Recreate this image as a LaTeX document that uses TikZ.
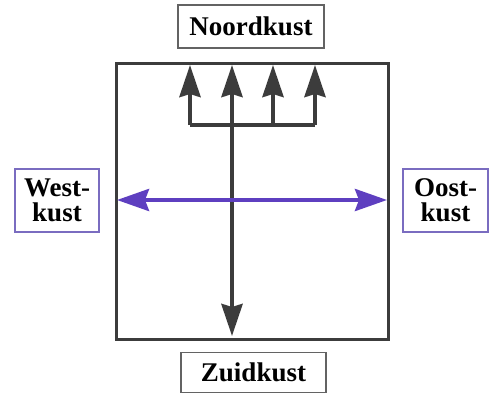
\documentclass[tikz,border=0pt]{standalone}
\usepackage{fontspec}
\setmainfont{Liberation Serif}
\usetikzlibrary{arrows.meta}
\definecolor{dgray}{HTML}{3C3C3C}
\definecolor{arrowpurple}{HTML}{5E3FC0}
\definecolor{boxpurple}{HTML}{7A6CC0}
\begin{document}
\begin{tikzpicture}[x=1pt,y=-1pt,
  label box/.style={draw, line width=1.2pt, inner sep=0pt, font=\fontsize{27}{25}\selectfont\bfseries, align=center},
  gray box/.style={label box, draw=dgray!80},
  purple box/.style={label box, draw=boxpurple},
  tip/.style={-{Stealth[length=32pt,width=21pt,inset=3pt]}},
  flow/.style={line width=4.3pt, dgray, tip},
  eastwest/.style={line width=4pt, arrowpurple, {Stealth[length=32pt,width=22pt,inset=4pt]}-{Stealth[length=32pt,width=22pt,inset=4pt]}}]
\useasboundingbox (0,0) rectangle (496,394);
\fill[white] (0,0) rectangle (496,394);
% square
\draw[line width=3pt, dgray] (116,63) rectangle (388,339);
% labels
\node[gray box, minimum width=146pt, minimum height=43pt] (noord) at (251,26.5) {Noordkust};
\node[gray box, minimum width=145pt, minimum height=40pt] (zuid) at (253.5,372.5) {Zuidkust};
\node[purple box, minimum width=84pt, minimum height=63pt] (west) at (57,200.5) {West-\\kust};
\node[purple box, minimum width=85pt, minimum height=63pt] (oost) at (445.5,200.5) {Oost-\\kust};
% coordinates
\coordinate (hub) at (232,125);
\coordinate (bl) at (190,125);
\coordinate (br) at (315,125);
\coordinate (b3) at (273,125);
\coordinate (t1) at (190,65);
\coordinate (t2) at (232,65);
\coordinate (t3) at (273,65);
\coordinate (t4) at (315,65);
\coordinate (bot) at (232,336);
\coordinate (wl) at (117,200);
\coordinate (er) at (387,200);
% branching arrows
\draw[line width=4.3pt, dgray] (bl) -- (br);
\draw[flow] (bl) -- (t1);
\draw[flow] (hub) -- (t2);
\draw[flow] (b3) -- (t3);
\draw[flow] (br) -- (t4);
\draw[flow] (hub) -- (bot);
% east-west arrow
\draw[eastwest] (wl) -- (er);
\end{tikzpicture}
\end{document}
